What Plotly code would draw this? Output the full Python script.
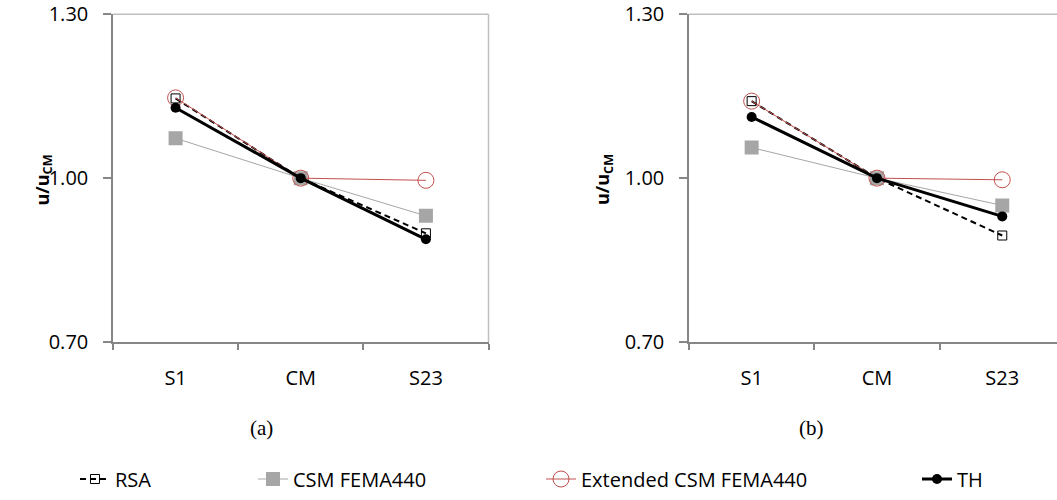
import plotly.graph_objects as go

# ---------------- data ----------------
categories = ["S1", "CM", "S23"]
series_names = ["RSA", "CSM FEMA440", "Extended CSM FEMA440", "TH"]

rsa_a = [1.146, 1.000, 0.899]
csm_a = [1.073, 1.000, 0.931]
ext_a = [1.147, 1.000, 0.996]
th_a = [1.129, 1.000, 0.888]

rsa_b = [1.141, 1.000, 0.895]
csm_b = [1.056, 1.000, 0.950]
ext_b = [1.141, 1.000, 0.997]
th_b = [1.112, 1.000, 0.930]

y_ticks = [0.70, 1.00, 1.30]
panel_labels = ["(a)", "(b)"]
y_title = "<b>u/u<sub>CM</sub></b>"

# ---------------- styling ----------------
W, H = 1057, 500
SANS = "Open Sans"
FS = 20
AXIS = "#868686"
BORDER = "#BFBFBF"
RED = "#C0504D"
GRAY = "#A6A6A6"


def fx(px):
    return px / W


def fy(py):
    return 1 - py / H


styles = [
    dict(line=dict(color="black", width=2, dash="6px,4px"),
         marker=dict(symbol="square-open", size=9, color="black", line=dict(width=1, color="black"))),
    dict(line=dict(color=GRAY, width=1),
         marker=dict(symbol="square", size=14, color=GRAY)),
    dict(line=dict(color=RED, width=1),
         marker=dict(symbol="circle-open", size=16, color=RED, line=dict(width=1, color=RED))),
    dict(line=dict(color="black", width=3),
         marker=dict(symbol="circle", size=10, color="black")),
]
legend_ids = ["legend", "legend2", "legend3", "legend4"]
legend_text_x = [120, 298, 586, 962]

panels = [
    dict(xa="x", ya="y", data=[rsa_a, csm_a, ext_a, th_a], show=True),
    dict(xa="x2", ya="y2", data=[rsa_b, csm_b, ext_b, th_b], show=False),
]

fig = go.Figure()
for p in panels:
    for i, (name, vals) in enumerate(zip(series_names, p["data"])):
        fig.add_trace(go.Scatter(
            x=categories, y=vals, name=name, mode="lines+markers",
            xaxis=p["xa"], yaxis=p["ya"],
            line=styles[i]["line"], marker=styles[i]["marker"],
            showlegend=p["show"], legend=legend_ids[i],
        ))

xcommon = dict(
    type="category", tickson="boundaries", ticks="outside", ticklen=6,
    tickcolor=AXIS, tickwidth=1.5, showline=True, linecolor=AXIS, linewidth=1.5,
    showgrid=False, zeroline=False, tickfont=dict(family=SANS, size=FS, color="black"),
    ticklabelstandoff=17, fixedrange=True,
)
ycommon = dict(
    range=[0.70, 1.30], tickvals=y_ticks, tickformat=".2f", ticks="outside", ticklen=8,
    tickcolor=AXIS, tickwidth=1.5, showline=True, linecolor=AXIS, linewidth=1.5,
    showgrid=False, zeroline=False, tickfont=dict(family=SANS, size=FS, color="black"),
    ticklabelstandoff=11, fixedrange=True,
)

y_dom = [fy(342), fy(14.3)]
layout = dict(
    width=W, height=H,
    margin=dict(l=0, r=0, t=0, b=0, autoexpand=False),
    paper_bgcolor="white", plot_bgcolor="white",
    xaxis=dict(xcommon, domain=[fx(113), fx(488.5)], range=[-0.5, 2.5], anchor="y"),
    yaxis=dict(ycommon, domain=y_dom, anchor="x"),
    xaxis2=dict(xcommon, domain=[fx(689), 1.0], range=[-0.5, -0.5 + 368 / 125.3], anchor="y2"),
    yaxis2=dict(ycommon, domain=y_dom, anchor="x2"),
)
for lid, tx in zip(legend_ids, legend_text_x):
    layout[lid] = dict(
        x=fx(tx - 45), y=fy(479), xanchor="left", yanchor="middle",
        orientation="h", bgcolor="rgba(0,0,0,0)",
        font=dict(family=SANS, size=FS, color="black"),
    )
fig.update_layout(**layout)

# plot-area borders (top/right) drawn light grey
shapes = [
    dict(type="line", xref="x domain", yref="y domain", x0=0, x1=1, y0=1, y1=1,
         line=dict(color=BORDER, width=1.5), layer="below"),
    dict(type="line", xref="x domain", yref="y domain", x0=1, x1=1, y0=0, y1=1,
         line=dict(color=BORDER, width=1.5), layer="below"),
    dict(type="line", xref="x2 domain", yref="y2 domain", x0=0, x1=1, y0=1, y1=1,
         line=dict(color=BORDER, width=1.5), layer="below"),
]
fig.update_layout(shapes=shapes)

annotations = [
    dict(text=y_title, x=fx(27), y=fy(180), xref="paper", yref="paper", textangle=-90,
         showarrow=False, font=dict(family=SANS, size=18, color="black")),
    dict(text=y_title, x=fx(603), y=fy(180), xref="paper", yref="paper", textangle=-90,
         showarrow=False, font=dict(family=SANS, size=18, color="black")),
    dict(text=panel_labels[0], x=fx(248), y=fy(442), xref="paper", yref="paper",
         showarrow=False, font=dict(family="Liberation Serif", size=21, color="black")),
    dict(text=panel_labels[1], x=fx(826), y=fy(442), xref="paper", yref="paper",
         showarrow=False, font=dict(family="Liberation Serif", size=21, color="black")),
]
fig.update_layout(annotations=annotations)

fig.write_html(
    "out.html",
    config={"displayModeBar": False},
    post_script="document.body.style.margin='0';document.body.style.padding='0';",
)
